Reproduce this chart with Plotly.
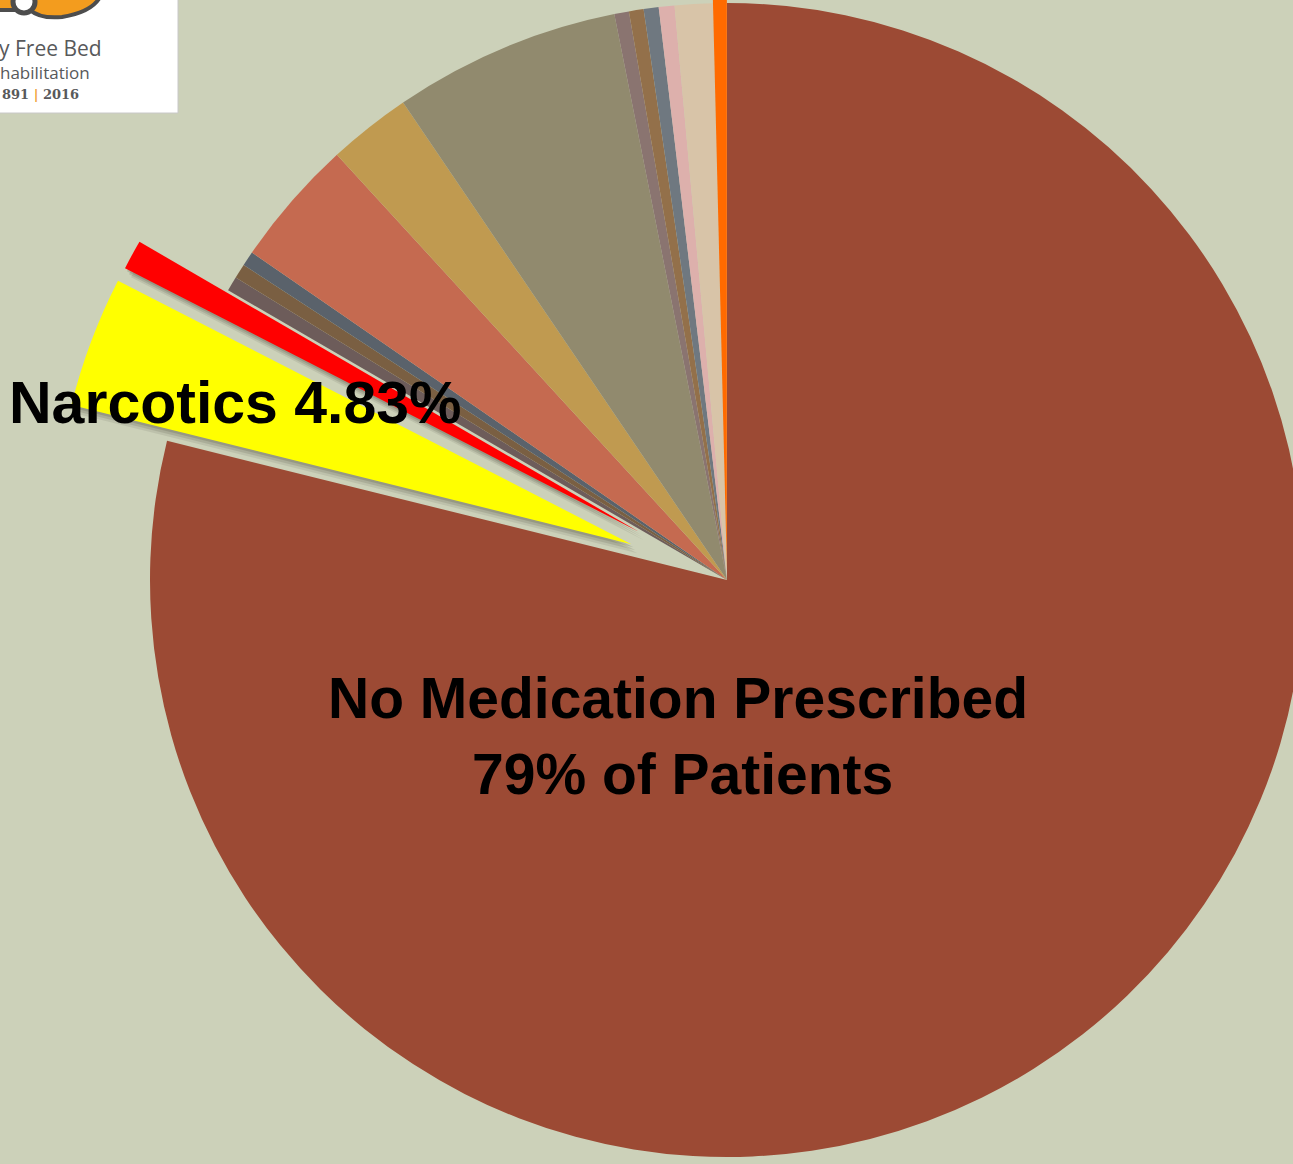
import plotly.graph_objects as go

# ---------------- data ----------------
categories = ["No Medication Prescribed", "Narcotics", "Other A", "Other B", "Other C",
              "Other D", "Other E", "Other F", "Other G", "Other H", "Other I",
              "Other J", "Other K", "Other L", "Other M"]
values = [78.9, 3.67, 0.83, 0.41, 0.41, 0.41, 3.58, 2.33, 6.36, 0.41, 0.41, 0.42, 0.44, 1.06, 0.39]
colors = ["#9C4A34", "#FFFF00", "#FF0000", "#6D5C5A", "#7A5F42", "#5A626B", "#C56A50",
          "#C09A50", "#918A6E", "#8A7470", "#93704A", "#6F7880", "#DDB0AC", "#D8C4A8", "#FF6A00"]
pulls = [0, 0.177, 0.175, 0, 0, 0, 0, 0, 0, 0, 0, 0, 0, 0, 0.015]
shadow_slices = ["Narcotics", "Other A"]

# ---------------- geometry ----------------
W, H = 1420, 1380          # figure size (larger than window, shifted up via CSS)
OX, OY = 0, 100            # hidden offset of the figure relative to the viewport
CX, CY, R = 727, 580, 577  # pie centre and radius in screen pixels
BG = "#CCD1B9"

maxpull = max(pulls)
half = R * (1 + maxpull)


def dom(dx=0, dy=0):
    x0 = (CX + OX + dx - half) / W
    x1 = (CX + OX + dx + half) / W
    ytop = CY + OY + dy - half
    ybot = CY + OY + dy + half
    return dict(x=[max(0, x0), min(1, x1)], y=[max(0, 1 - ybot / H), min(1, 1 - ytop / H)])


def ax(x):
    return (x + OX) / W


def ay(y):
    return 1 - (y + OY) / H


fig = go.Figure()

# soft shadows for the exploded slices
for (dx, dy, a) in [(6, 9, 0.10), (4, 6, 0.14), (2, 3, 0.18)]:
    sc = [f"rgba(60,60,45,{a})" if c in shadow_slices else "rgba(0,0,0,0)" for c in categories]
    fig.add_trace(go.Pie(labels=categories, values=values, pull=pulls, sort=False,
                         direction="clockwise", rotation=0, domain=dom(dx, dy),
                         marker=dict(colors=sc, line=dict(width=0)),
                         textinfo="none", hoverinfo="skip", showlegend=False))

fig.add_trace(go.Pie(labels=categories, values=values, pull=pulls, sort=False,
                     direction="clockwise", rotation=0, domain=dom(),
                     marker=dict(colors=colors, line=dict(width=0)),
                     textinfo="none", showlegend=False))

big_font = dict(family="Liberation Sans, Arial, sans-serif", size=57, color="black", weight="bold")
narc_font = dict(family="Liberation Sans, Arial, sans-serif", size=59, color="black", weight="bold")
annotations = [
    dict(text="No Medication Prescribed", x=ax(678), y=ay(698), xref="paper", yref="paper",
         xanchor="center", yanchor="middle", showarrow=False, font=big_font),
    dict(text="79% of Patients", x=ax(682), y=ay(774), xref="paper", yref="paper",
         xanchor="center", yanchor="middle", showarrow=False, font=big_font),
    dict(text="Narcotics 4.83%", x=ax(7), y=ay(403), xref="paper", yref="paper",
         xanchor="left", yanchor="middle", showarrow=False, font=narc_font),
    # logo texts
    dict(text="y Free Bed", x=ax(-3), y=ay(48), xref="paper", yref="paper",
         xanchor="left", yanchor="middle", showarrow=False,
         font=dict(family="Open Sans, sans-serif", size=21, color="#58595B")),
    dict(text="habilitation", x=ax(-2), y=ay(72), xref="paper", yref="paper",
         xanchor="left", yanchor="middle", showarrow=False,
         font=dict(family="Open Sans, sans-serif", size=17, color="#58595B")),
    dict(text="891 <span style='color:#F0A030'>|</span> 2016", x=ax(0), y=ay(94), xref="paper",
         yref="paper", xanchor="left", yanchor="middle", showarrow=False,
         font=dict(family="DejaVu Serif, serif", size=13, color="#58595B", weight="bold")),
]

shapes = [
    dict(type="rect", xref="paper", yref="paper", x0=ax(-3), x1=ax(178), y0=ay(-3), y1=ay(113),
         fillcolor="white", line=dict(color="#C8C8C8", width=1), layer="above"),
    # orange logo fragment
    dict(type="path", xref="paper", yref="paper", layer="above",
         path=(f"M {ax(-3)},{ay(-3)} L {ax(100)},{ay(-3)} Q {ax(92)},{ay(12)} {ax(62)},{ay(17)} "
               f"Q {ax(40)},{ay(19)} {ax(30)},{ay(10)} L {ax(-3)},{ay(10)} Z"),
         fillcolor="#F39C1E", line=dict(color="#4D4D4D", width=4)),
    dict(type="circle", xref="paper", yref="paper", layer="above",
         x0=ax(13), x1=ax(35), y0=ay(-9), y1=ay(13),
         fillcolor="white", line=dict(color="#4D4D4D", width=5)),
]

fig.update_layout(width=W, height=H, margin=dict(l=0, r=0, t=0, b=0),
                  paper_bgcolor=BG, plot_bgcolor=BG, annotations=annotations, shapes=shapes)

post = ("var gd=document.getElementById('{plot_id}');"
        "document.documentElement.style.overflow='hidden';"
        "document.body.style.margin='0';document.body.style.overflow='hidden';"
        "document.body.style.background='" + BG + "';"
        "gd.style.position='absolute';gd.style.left='" + str(-OX) + "px';"
        "gd.style.top='" + str(-OY) + "px';")

fig.write_html("out.html", config={"displayModeBar": False}, post_script=post)
